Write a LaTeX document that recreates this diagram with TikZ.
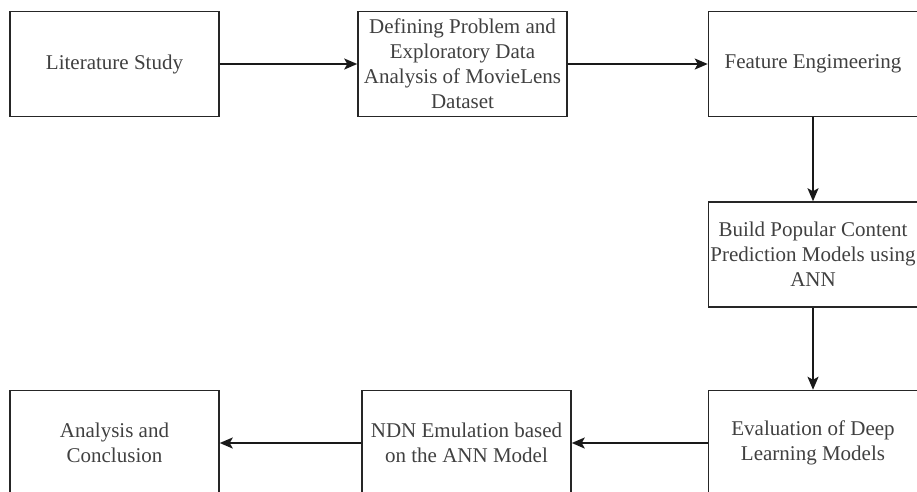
\documentclass[tikz,border=0pt]{standalone}
\usepackage{fontspec}
\setmainfont{Liberation Serif}
\usetikzlibrary{arrows.meta}
\begin{document}
\begin{tikzpicture}[x=1pt,y=-1pt,
  stepbox/.style={draw=black!85,line width=1.5pt,rectangle,minimum width=209pt,minimum height=105pt,
    inner sep=0pt,align=center,text=black!75,font=\fontsize{21pt}{25pt}\selectfont},
  conn/.style={draw=black!90,line width=1.8pt,-{Stealth[length=13pt,width=11pt,inset=3pt]}}]
\useasboundingbox (0,0) rectangle (917,491);
\clip (0,0) rectangle (917,491);
\node[stepbox] (lit) at (114.5,64) {Literature Study};
\node[stepbox] (def) at (462.5,64) {Defining Problem and\\Exploratory Data\\Analysis of MovieLens\\Dataset};
\node[stepbox] (fe) at (813,64) {Feature Engimeering};
\node[stepbox] (build) at (813,254.5) {Build Popular Content\\Prediction Models using\\ANN};
\node[stepbox] (eval) at (813,443) {Evaluation of Deep\\Learning Models};
\node[stepbox] (ndn) at (466.5,443) {NDN Emulation based\\on the ANN Model};
\node[stepbox] (ana) at (114.5,443) {Analysis and\\Conclusion};
\draw[conn] (lit) -- (def);
\draw[conn] (def) -- (fe);
\draw[conn] (fe) -- (build);
\draw[conn] (build) -- (eval);
\draw[conn] (eval) -- (ndn);
\draw[conn] (ndn) -- (ana);
\end{tikzpicture}
\end{document}
